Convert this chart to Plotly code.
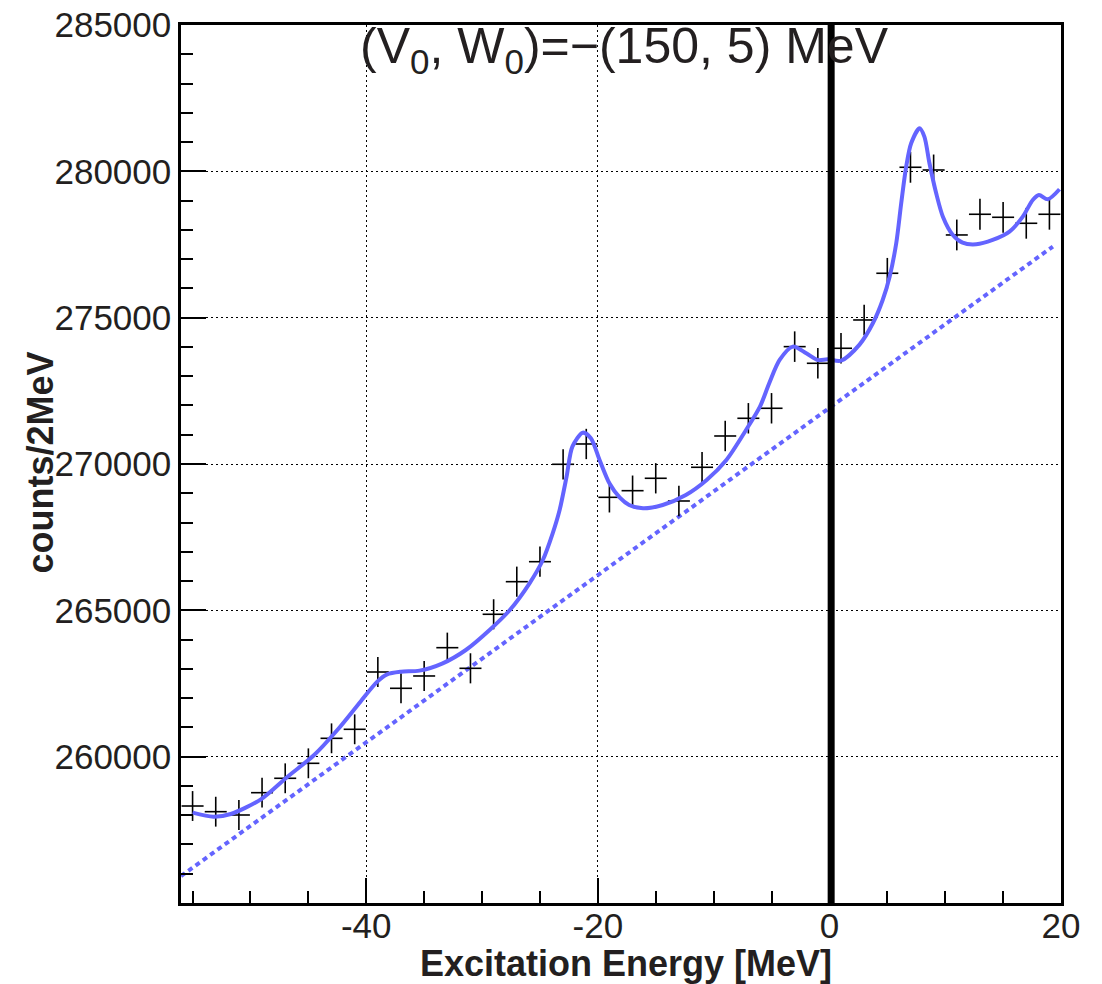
import plotly.graph_objects as go

# ---- data ----
data_x = [-55, -53, -51, -49, -47, -45, -43, -41, -39, -37, -35, -33, -31, -29, -27, -25,
          -23, -21, -19, -17, -15, -13, -11, -9, -7, -5, -3, -1, 1, 3, 5, 7, 9, 11, 13, 15, 17, 19]
data_y = [258314, 258120, 258007, 258769, 259261, 259773, 260627, 260935, 262893, 262336,
          262757, 263724, 263019, 264865, 265979, 266662, 269990, 270684, 268862, 269088,
          269512, 268736, 269888, 270957, 271562, 271904, 274010, 273441, 273954, 274921,
          276517, 280139, 280046, 277826, 278533, 278430, 278225, 278533]
data_err_y = [510, 510, 510, 510, 510, 510, 510, 510, 512, 512, 512, 514, 514, 514, 515, 515,
              518, 518, 518, 518, 518, 518, 518, 520, 520, 520, 522, 522, 522, 522, 524, 528,
              528, 526, 526, 526, 526, 526]
data_err_x = [0.95] * len(data_x)

fit_x = [-55, -53.2, -51.7, -49.1, -46.8, -44.5, -42.5, -40.5, -39.05, -38.2, -37.0, -35.4,
         -33.4, -31.4, -29.35, -27.6, -25.9, -24.75, -23.9, -23.3, -22.7, -22.2, -21.3, -20.6,
         -19.85, -19.0, -18.1, -17.3, -16.1, -14.4, -12.4, -10.6, -8.9, -7.2, -6.0, -5.2, -4.3,
         -3.16, -2.0, -1.0, -0.14, 1.0, 2.6, 3.75, 4.6, 5.2, 5.77, 6.2, 6.63, 7.06, 7.78, 8.2,
         8.64, 9.22, 9.8, 10.66, 11.5, 12.68, 14.1, 15.55, 16.7, 17.56, 18.1, 18.86, 19.87]
fit_y = [258086, 257949, 258041, 258543, 259316, 260057, 260911, 261879, 262563, 262813,
         262904, 262939, 263190, 263645, 264328, 265012, 265924, 266720, 267632, 268429,
         269568, 270593, 271071, 270878, 270137, 269341, 268850, 268600, 268486, 268600,
         268941, 269454, 270137, 271162, 271959, 272758, 273554, 274010, 273783, 273554,
         273577, 273530, 274080, 274808, 275605, 276401, 277542, 278909, 280160, 280959,
         281471, 281185, 280275, 279250, 278451, 277826, 277562, 277508, 277655, 277939,
         278451, 279022, 279192, 279045, 279387]

bg_x = [-56, 19.3]
bg_y = [255920, 277430]

threshold_x = [0.15, 0.15]
threshold_y = [255000, 285000]

y_ticks = [260000, 265000, 270000, 275000, 280000, 285000]
x_ticks = [-40, -20, 0, 20]

BLUE = "#6464ff"
TXT = "#231f20"
FONT = "Liberation Sans, Arial, Helvetica, sans-serif"

fig = go.Figure()

fig.add_trace(go.Scatter(
    x=bg_x, y=bg_y, mode="lines",
    line=dict(color=BLUE, width=4, dash="5px,4px"),
    hoverinfo="skip", showlegend=False))

fig.add_trace(go.Scatter(
    x=data_x, y=data_y, mode="markers",
    marker=dict(size=0.1, color="black", opacity=0),
    error_x=dict(type="data", array=data_err_x, visible=True, width=0, thickness=1.6, color="black"),
    error_y=dict(type="data", array=data_err_y, visible=True, width=0, thickness=1.6, color="black"),
    showlegend=False))

fig.add_trace(go.Scatter(
    x=fit_x, y=fit_y, mode="lines",
    line=dict(color=BLUE, width=4, shape="spline", smoothing=0.8),
    showlegend=False))

fig.add_trace(go.Scatter(
    x=threshold_x, y=threshold_y, mode="lines",
    line=dict(color="black", width=7),
    showlegend=False, hoverinfo="skip"))

fig.update_layout(
    width=1102, height=984,
    margin=dict(l=181, r=41, t=25, b=81, autoexpand=False),
    paper_bgcolor="white", plot_bgcolor="white",
    font=dict(family=FONT, color=TXT, size=35),
    showlegend=False,
    annotations=[
        dict(text="(V<sub>0</sub>, W<sub>0</sub>)=\u2212(150, 5) MeV",
             xref="paper", yref="paper", x=0.201, y=0.972,
             xanchor="left", yanchor="middle", showarrow=False,
             font=dict(family=FONT, size=50, color=TXT)),
        dict(text="<b>Excitation Energy [MeV]</b>",
             xref="paper", yref="paper", x=0.506, y=-0.069,
             xanchor="center", yanchor="middle", showarrow=False,
             font=dict(family=FONT, size=36, color=TXT)),
        dict(text="<b>counts/2MeV</b>", textangle=-90,
             xref="paper", yref="paper", x=-0.160, y=0.502,
             xanchor="center", yanchor="middle", showarrow=False,
             font=dict(family=FONT, size=36, color=TXT)),
    ],
)

fig.update_xaxes(
    range=[-56, 20], tickmode="array", tickvals=x_ticks, ticktext=[str(v) for v in x_ticks],
    showgrid=True, gridcolor="black", gridwidth=1.4, griddash="1.5px,3.5px",
    zeroline=False, showline=True, linecolor="black", linewidth=2.5, mirror=True,
    ticks="inside", ticklen=25, tickwidth=1.5, tickcolor="black",
    tickfont=dict(size=35, color=TXT), automargin=False, ticklabelstandoff=-10,
    minor=dict(dtick=5, tick0=0, ticks="inside", ticklen=12, tickwidth=1.5,
               tickcolor="black", showgrid=False),
)

fig.update_yaxes(
    range=[255000, 285000], tickmode="array", tickvals=y_ticks, ticktext=[str(v) for v in y_ticks],
    showgrid=True, gridcolor="black", gridwidth=1.4, griddash="1.5px,3.5px",
    zeroline=False, showline=True, linecolor="black", linewidth=2.5, mirror=True,
    ticks="inside", ticklen=25, tickwidth=1.5, tickcolor="black",
    tickfont=dict(size=35, color=TXT), automargin=False,
    minor=dict(dtick=1000, tick0=255000, ticks="inside", ticklen=12, tickwidth=1.5,
               tickcolor="black", showgrid=False),
)

fig.write_html("out.html")
